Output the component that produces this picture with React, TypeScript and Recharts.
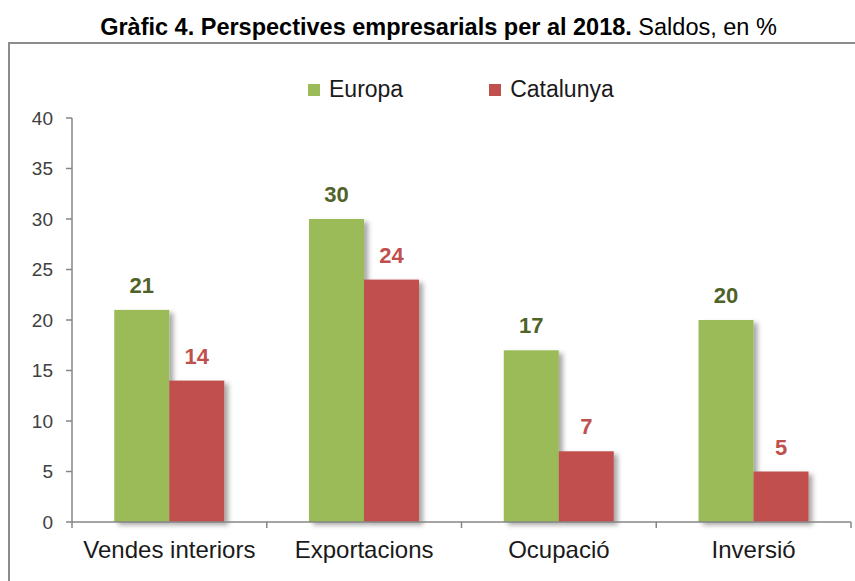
import React from 'react';
import { BarChart, Bar, XAxis, YAxis, Legend, LabelList } from 'recharts';

const categories = ['Vendes interiors', 'Exportacions', 'Ocupació', 'Inversió'];
const europa = [21, 30, 17, 20];
const catalunya = [14, 24, 7, 5];
const yTicks = [0, 5, 10, 15, 20, 25, 30, 35, 40];
const seriesOrder = ['Europa', 'Catalunya'];

const data = categories.map((c, i) => ({ name: c, Europa: europa[i], Catalunya: catalunya[i] }));

const FONT = '"Liberation Sans", Arial, Helvetica, sans-serif';
const AXIS = '#868686';
const GREEN = '#9BBB59';
const RED = '#C0504D';
const GREEN_LABEL = '#4F6228';
const RED_LABEL = '#C0504D';

const XTick = (props: any) => {
  const { x, y, payload, index } = props;
  const off = payload && payload.offset ? payload.offset : 0;
  const isLast = index === categories.length - 1;
  return (
    <g>
      <line x1={x - off} x2={x - off} y1={y} y2={y + 6} stroke={AXIS} strokeWidth={1.5} />
      {isLast && <line x1={x + off} x2={x + off} y1={y} y2={y + 6} stroke={AXIS} strokeWidth={1.5} />}
      <text x={x} y={y + 36} textAnchor="middle" fontSize={24} fill="#1a1a1a" fontFamily={FONT}>
        {payload.value}
      </text>
    </g>
  );
};

const ShadowRect = (p: any) => (
  <rect x={p.x} y={p.y} width={p.width} height={p.height} fill={p.fill} filter="url(#barShadow)" />
);

const renderLegend = (props: any) => {
  const payload = [...(props.payload || [])].sort(
    (a: any, b: any) => seriesOrder.indexOf(a.value) - seriesOrder.indexOf(b.value)
  );
  return (
    <div
      style={{
        display: 'flex',
        justifyContent: 'flex-start',
        alignItems: 'center',
        gap: 86,
        fontFamily: FONT,
        fontSize: 23,
        lineHeight: '23px',
        color: '#1a1a1a',
        height: 23,
      }}
    >
      {payload.map((p: any) => (
        <div key={p.value} style={{ display: 'flex', alignItems: 'center' }}>
          <span style={{ width: 12, height: 12, background: p.color, marginRight: 9, display: 'inline-block' }} />
          <span>{p.value}</span>
        </div>
      ))}
    </div>
  );
};

export default function App() {
  return (
    <div style={{ position: 'absolute', left: 0, top: 0, width: 855, height: 581, overflow: 'hidden', background: '#fff' }}>
      <div
        style={{
          position: 'absolute',
          left: 8,
          top: 42,
          width: 900,
          height: 600,
          border: '2px solid #8c8c8c',
          boxSizing: 'border-box',
        }}
      />
      <div
        style={{
          position: 'absolute',
          left: 0,
          top: 15.5,
          width: 877,
          textAlign: 'center',
          fontFamily: FONT,
          fontSize: 23.5,
          lineHeight: '23.5px',
          color: '#000',
          whiteSpace: 'nowrap',
        }}
      >
        <b>Gràfic 4. Perspectives empresarials per al 2018.</b> Saldos, en %
      </div>
      <div style={{ position: 'absolute', left: 0, top: 0 }}>
        <BarChart
          width={855}
          height={581}
          data={data}
          margin={{ top: 118, right: 4, left: 0, bottom: 0 }}
          barCategoryGap="21.7%"
          barGap={0}
        >
          <defs>
            <filter id="barShadow" x="-20%" y="-10%" width="150%" height="130%">
              <feDropShadow dx="4" dy="3" stdDeviation="2.5" floodColor="#000" floodOpacity="0.35" />
            </filter>
          </defs>
          <XAxis
            dataKey="name"
            height={59}
            tickLine={false}
            tickSize={0}
            tickMargin={0}
            axisLine={{ stroke: AXIS, strokeWidth: 1.5 }}
            tick={<XTick />}
            interval={0}
          />
          <YAxis
            width={72}
            domain={[0, 40]}
            ticks={yTicks}
            interval={0}
            tickSize={6}
            tickMargin={13}
            axisLine={{ stroke: AXIS, strokeWidth: 1.5 }}
            tickLine={{ stroke: AXIS, strokeWidth: 1.5 }}
            tick={{ fontSize: 19, fill: '#404040', fontFamily: FONT }}
          />
          <Legend
            layout="horizontal"
            verticalAlign="middle"
            align="center"
            content={renderLegend}
            wrapperStyle={{ top: 78, left: 308, width: 520, height: 23 }}
          />
          <Bar dataKey="Europa" fill={GREEN} isAnimationActive={false} shape={ShadowRect}>
            <LabelList dataKey="Europa" position="top" offset={17} fill={GREEN_LABEL} fontSize={22} fontWeight="bold" fontFamily={FONT} />
          </Bar>
          <Bar dataKey="Catalunya" fill={RED} isAnimationActive={false} shape={ShadowRect}>
            <LabelList dataKey="Catalunya" position="top" offset={17} fill={RED_LABEL} fontSize={22} fontWeight="bold" fontFamily={FONT} />
          </Bar>
        </BarChart>
      </div>
    </div>
  );
}
